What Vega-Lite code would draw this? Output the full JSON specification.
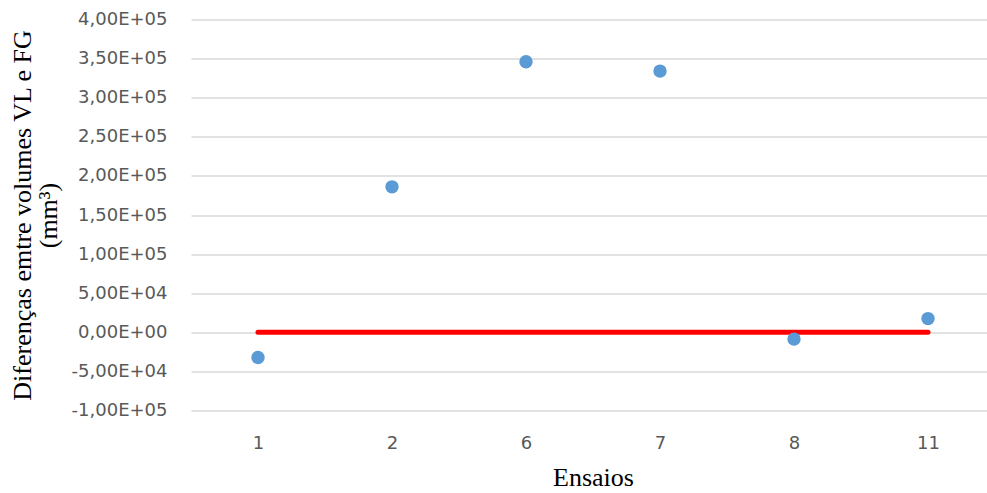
{
  "$schema": "https://vega.github.io/schema/vega-lite/v6.json",
  "autosize": {"type": "none"},
  "width": 804,
  "height": 391,
  "padding": {"left": 191, "top": 19.5, "right": 0, "bottom": 82},
  "background": "white",
  "config": {
    "view": {"stroke": null},
    "axis": {"grid": false}
  },
  "datasets": {
    "pontos": [
      {"Ensaio": "1", "Diferenca": -32200},
      {"Ensaio": "2", "Diferenca": 186000},
      {"Ensaio": "6", "Diferenca": 346000},
      {"Ensaio": "7", "Diferenca": 334000},
      {"Ensaio": "8", "Diferenca": -8700},
      {"Ensaio": "11", "Diferenca": 17500}
    ],
    "zero": [
      {"Ensaio": "1", "Diferenca": 0},
      {"Ensaio": "11", "Diferenca": 0}
    ]
  },
  "encoding": {
    "x": {
      "field": "Ensaio", "type": "nominal",
      "scale": {"domain": ["1", "2", "6", "7", "8", "11"], "type": "point", "padding": 0.5},
      "axis": {
        "title": "Ensaios",
        "titleFont": "Liberation Serif", "titleFontSize": 26, "titleFontWeight": "normal", "titleColor": "#000000",
        "titleBaseline": "alphabetic", "titleX": 402, "titleY": 74.5,
        "labelFont": "DejaVu Sans", "labelFontSize": 18, "labelColor": "#595959", "labelPadding": 24, "labelAngle": 0,
        "labelAlign": "center", "labelOverlap": false,
        "ticks": false, "domain": false, "grid": false
      }
    },
    "y": {
      "field": "Diferenca", "type": "quantitative",
      "scale": {"domain": [-100000, 400000], "nice": false, "zero": false},
      "axis": {
        "title": ["Diferenças emtre volumes VL e FG", "(mm³)"],
        "titleFont": "Liberation Serif", "titleFontSize": 26, "titleFontWeight": "normal", "titleColor": "#000000",
        "titleLineHeight": 26, "titleAngle": 270, "titleBaseline": "bottom", "titleAlign": "center",
        "titleX": -156, "titleY": 195.5,
        "values": [-100000, -50000, 0, 50000, 100000, 150000, 200000, 250000, 300000, 350000, 400000],
        "labelExpr": "replace(replace(replace(replace(format(datum.value, '.2e'), '.', ','), 'e+', 'E+0'), 'e-', 'E-0'), '\u2212', '-')",
        "labelFont": "DejaVu Sans", "labelFontSize": 18, "labelColor": "#595959", "labelPadding": 24,
        "labelOverlap": false,
        "ticks": false, "domain": false,
        "grid": true, "gridColor": "#D9D9D9", "gridWidth": 1.5
      }
    }
  },
  "layer": [
    {
      "data": {"name": "zero"},
      "mark": {"type": "line", "color": "#FF0000", "strokeWidth": 5, "strokeCap": "round"}
    },
    {
      "data": {"name": "pontos"},
      "mark": {"type": "point", "filled": true, "shape": "circle", "size": 180, "color": "#5B9BD5", "opacity": 1}
    }
  ]
}
